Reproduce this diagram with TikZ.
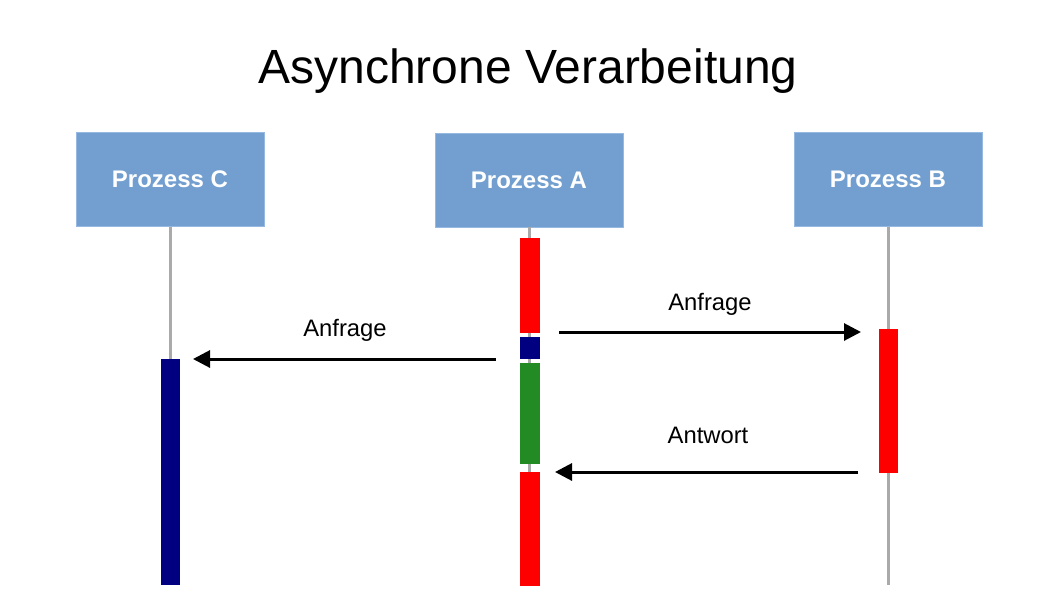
\documentclass[tikz,border=0pt]{standalone}
\usepackage{fontspec}
\setmainfont{Liberation Sans}
\usetikzlibrary{arrows.meta}
\definecolor{boxblue}{RGB}{114,159,207}
\definecolor{boxedge}{RGB}{150,185,225}
\definecolor{lifegray}{RGB}{170,170,170}
\definecolor{barred}{RGB}{255,0,0}
\definecolor{barnavy}{RGB}{0,0,128}
\definecolor{bargreen}{RGB}{35,139,35}
\tikzset{
  procbox/.style={fill=boxblue, draw=boxedge, line width=0.8pt, minimum width=188pt, minimum height=94pt, inner sep=0pt, text=white, font=\fontsize{24}{28}\selectfont\bfseries},
  lifeline/.style={draw=lifegray, line width=3pt},
  actbar/.style={inner sep=0pt, minimum width=20pt, draw=none},
  msg/.style={draw=black, line width=3pt, -{Triangle[length=17pt,width=17pt]}},
  msglabel/.style={font=\fontsize{23.8}{28}\selectfont, inner sep=0pt, anchor=base},
}
\begin{document}
\begin{tikzpicture}[x=1pt,y=-1pt]
\useasboundingbox[fill=white] (0,0) rectangle (1058,595);
\node[font=\fontsize{48}{56}\selectfont, inner sep=0pt, anchor=base] (title) at (528,83.3) {Asynchrone Verarbeitung};
\node[procbox] (pc) at (170,179.5) {Prozess C};
\node[procbox] (pa) at (529,180) {Prozess A};
\node[procbox] (pb) at (888,179.5) {Prozess B};
\coordinate (ce) at (170,585);
\coordinate (ae) at (529,585);
\coordinate (be) at (888,585);
\draw[lifeline] (pc.south) -- (ce);
\draw[lifeline] (pa.south) -- (ae);
\draw[lifeline] (pb.south) -- (be);
% activation bars
\node[actbar, fill=barred, minimum height=94.5pt] (a1) at (529.5,285.3) {};
\node[actbar, fill=barnavy, minimum height=22.5pt] (a2) at (529.5,348) {};
\node[actbar, fill=bargreen, minimum height=101pt] (a3) at (529.5,413.8) {};
\node[actbar, fill=barred, minimum height=114pt] (a4) at (529.5,529) {};
\node[actbar, fill=barred, minimum height=144pt, minimum width=19.5pt] (b1) at (888.3,401) {};
\node[actbar, fill=barnavy, minimum height=226pt, minimum width=19pt] (c1) at (170.5,472) {};
% messages
\coordinate (m1s) at (495.5,359);
\coordinate (m1e) at (193,359);
\coordinate (m2s) at (559,332);
\coordinate (m2e) at (861,332);
\coordinate (m3s) at (858,472);
\coordinate (m3e) at (555,472);
\draw[msg] (m1s) -- (m1e);
\draw[msg] (m2s) -- (m2e);
\draw[msg] (m3s) -- (m3e);
\node[msglabel] (l1) at (345,336.7) {Anfrage};
\node[msglabel] (l2) at (710,310.7) {Anfrage};
\node[msglabel] (l3) at (708,443.3) {Antwort};
\end{tikzpicture}
\end{document}
